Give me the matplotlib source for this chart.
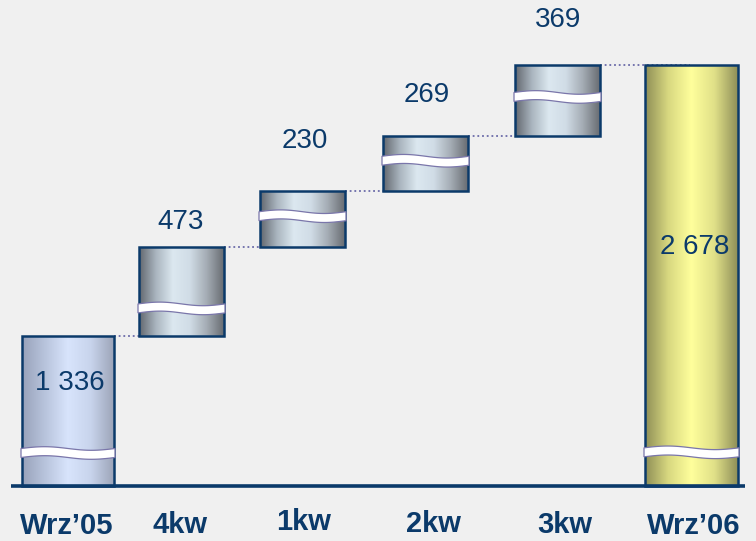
import numpy as np
import matplotlib
matplotlib.use("Agg")
import matplotlib.pyplot as plt
from matplotlib.colors import LinearSegmentedColormap
from matplotlib.patches import Rectangle, Polygon

# ---- data ----
categories = ["Wrz’05", "4kw", "1kw", "2kw", "3kw", "Wrz’06"]
values = [1336, 473, 230, 269, 369, 2678]
kinds = ["total", "delta", "delta", "delta", "delta", "total"]
# heights as drawn on the (broken, not-to-scale) axis
shown_heights = [150, 89, 56, 55, 71, 421]

# ---- layout (pixel-like data units, baseline at 0) ----
x_centers = [68, 181.5, 302.5, 425.5, 557.5, 691.5]
widths = [92, 85, 85, 85, 85, 93]
break_frac = [0.22, 0.31, 0.55, 0.55, 0.55, 0.08]
label_pos = [(70, 103), (181, 264), (305, 345), (427, 391), (558, 466), (695, 239)]
cat_pos = [(67, -48), (180, -47), (304, -44), (433, -46), (565, -47), (694, -48)]

NAVY = "#0b3a6a"
BG = "#f0f0f0"

cmaps = {
    "Wrz’05": LinearSegmentedColormap.from_list("b", ["#98a2ba", "#b8c4dc", "#d8e4fc", "#c8d4ec", "#9ca4b8"]),
    "Wrz’06": LinearSegmentedColormap.from_list("y", ["#8e8e56", "#d8d880", "#ffff9c", "#e0e088", "#8e8e58"]),
    "delta": LinearSegmentedColormap.from_list("g", ["#62676e", "#aab5bf", "#dce8f0", "#d0dce6", "#a4acb4", "#686c72"]),
}

fig = plt.figure(figsize=(7.56, 5.41), dpi=100)
fig.patch.set_facecolor(BG)
ax = fig.add_axes([0, 0, 1, 1])
ax.set_facecolor(BG)
ax.set_xlim(0, 756)
ax.set_ylim(-55, 486)
ax.axis("off")

grad = np.linspace(0, 1, 256).reshape(1, -1)

# compute bottoms
bottoms = []
running = 0
for k, h in zip(kinds, shown_heights):
    if k == "total":
        bottoms.append(0)
        running = h
    else:
        bottoms.append(running)
        running += h

def fmt(v):
    return f"{v:,}".replace(",", " ")

tops = [b + h for b, h in zip(bottoms, shown_heights)]

# dotted connectors
for i in range(len(categories) - 1):
    y = tops[i]
    x0 = x_centers[i] + widths[i] / 2
    x1 = x_centers[i + 1] - widths[i + 1] / 2 + 45
    ax.plot([x0, x1], [y, y], linestyle=(0, (1, 1.6)), color="#6a6aa8", lw=1.3, zorder=1)

for i, cat in enumerate(categories):
    xc, w = x_centers[i], widths[i]
    b, h = bottoms[i], shown_heights[i]
    cm = cmaps[cat] if kinds[i] == "total" else cmaps["delta"]
    ax.imshow(grad, cmap=cm, aspect="auto", extent=(xc - w / 2, xc + w / 2, b, b + h),
              zorder=2, interpolation="bilinear")
    ax.add_patch(Rectangle((xc - w / 2, b), w, h, fill=False, edgecolor=NAVY, lw=1.8, zorder=4))
    # break mark
    yc = b + h * break_frac[i]
    t = np.linspace(0, 1, 60)
    xs = xc - w / 2 - 1 + (w + 2) * t
    off = 1.8 * np.sin(2 * np.pi * t)
    top = yc + 4.5 + off
    bot = yc - 4.5 + off
    poly = np.column_stack([np.concatenate([xs, xs[::-1]]), np.concatenate([top, bot[::-1]])])
    ax.add_patch(Polygon(poly, closed=True, facecolor="white", edgecolor="#7a76aa", lw=0.9, zorder=5))
    # value label
    lx, ly = label_pos[i]
    ax.text(lx, ly, fmt(values[i]), ha="center", va="center", fontsize=20,
            color=NAVY, family="Liberation Sans", zorder=6)
    # category label
    cx, cy = cat_pos[i]
    ax.text(cx, cy, cat, ha="center", va="baseline", fontsize=21, fontweight="bold",
            color=NAVY, family="Liberation Sans", zorder=6)

# baseline
ax.plot([11, 745], [0, 0], color=NAVY, lw=2.6, zorder=5, solid_capstyle="butt")

fig.savefig("out.png", dpi=100, facecolor=BG)
